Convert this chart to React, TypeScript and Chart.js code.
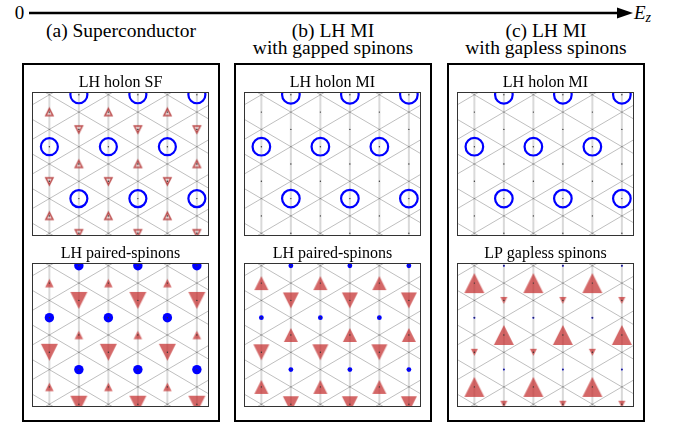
import React, { useEffect, useRef } from 'react';
import { Chart, registerables } from 'chart.js';
Chart.register(...registerables);

// ---- Lattice description (triangular lattice, columns i, half-row index k) ----
const evenColumns = [0, 2, 4];
const oddColumns = [1, 3, 5];
const allColumns = [0, 1, 2, 3, 4, 5];
// three-sublattice pattern: rows k (units of half lattice constant)
const upRowsEven = [-5, 1, 7];
const circleRowsEven = [-3, 3, 9];
const downRowsEven = [-1, 5, 11];
const upRowsOdd = [-2, 4, 10];
const circleRowsOdd = [0, 6];
const downRowsOdd = [2, 8];
// diagonal bond families: k - i = c  and  k + i = c
const diagDownOffsets = [-10, -8, -6, -4, -2, 0, 2, 4, 6, 8, 10, 12];
const diagUpOffsets = [-4, -2, 0, 2, 4, 6, 8, 10, 12, 14, 16, 18];

// ---- Texts ----
const headerTitles = ['(a) Superconductor', '(b) LH MI', '(c) LH MI'];
const headerSubtitles = ['', 'with gapped spinons', 'with gapless spinons'];
const topTitles = ['LH holon SF', 'LH holon MI', 'LH holon MI'];
const bottomTitles = ['LH paired-spinons', 'LH paired-spinons', 'LP gapless spinons'];

// ---- Marker amplitudes per panel (a, b, c) ----
const topCircleAmp = [8.5, 8.8, 8.8];
const topTriangleAmp = [7, 0, 0];
const bottomCircleAmp = [4.7, 2.4, 1.0];
const bottomUpAmp = [8.5, 14, 20];
const bottomDownAmp = [17, 16, 7];

const COL = Math.sqrt(3) / 2;
const BLUE = '#0000ff';
const RED_FILL = 'rgba(195,45,45,0.72)';
const FONT = "'Liberation Serif', 'Times New Roman', serif";

type Pt = { x: number; y: number };

function sites(cols: number[], rows: number[]): Pt[] {
  const out: Pt[] = [];
  cols.forEach((i) => rows.forEach((k) => out.push({ x: i * COL, y: k / 2 })));
  return out;
}

function triangleImage(size: number, up: boolean, fill: string, stroke: string | null, lw: number) {
  const pad = stroke ? Math.ceil(lw) + 1 : 1;
  const n = Math.ceil(size) + 2 * pad;
  const c = document.createElement('canvas');
  c.width = n;
  c.height = n;
  const ctx = c.getContext('2d')!;
  const m = n / 2;
  const h = size / 2;
  ctx.beginPath();
  if (up) {
    ctx.moveTo(m, m - h);
    ctx.lineTo(m + h, m + h);
    ctx.lineTo(m - h, m + h);
  } else {
    ctx.moveTo(m, m + h);
    ctx.lineTo(m + h, m - h);
    ctx.lineTo(m - h, m - h);
  }
  ctx.closePath();
  ctx.fillStyle = fill;
  ctx.fill();
  if (stroke) {
    ctx.lineWidth = lw;
    ctx.strokeStyle = stroke;
    ctx.stroke();
  }
  return c;
}

const framePlugin = {
  id: 'frame',
  afterDraw(chart: any) {
    const { ctx, chartArea: a } = chart;
    ctx.save();
    ctx.strokeStyle = '#333';
    ctx.lineWidth = 1;
    ctx.strokeRect(a.left + 0.5, a.top + 0.5, a.width - 1, a.height - 1);
    ctx.restore();
  },
};

function lineDatasets(): any[] {
  const ds: any[] = [];
  allColumns.forEach((i) => {
    ds.push({
      data: [{ x: i * COL, y: -1 }, { x: i * COL, y: 5 }],
      showLine: true, pointRadius: 0, borderColor: 'rgba(0,0,0,0.15)', borderWidth: 2, clip: 0, order: 3,
    });
  });
  diagDownOffsets.forEach((c) => {
    ds.push({
      data: [{ x: -2 * COL, y: (c - 2) / 2 }, { x: 8 * COL, y: (c + 8) / 2 }],
      showLine: true, pointRadius: 0, borderColor: 'rgba(0,0,0,0.32)', borderWidth: 0.8, clip: 0, order: 3,
    });
  });
  diagUpOffsets.forEach((c) => {
    ds.push({
      data: [{ x: -2 * COL, y: (c + 2) / 2 }, { x: 8 * COL, y: (c - 8) / 2 }],
      showLine: true, pointRadius: 0, borderColor: 'rgba(0,0,0,0.32)', borderWidth: 0.8, clip: 0, order: 3,
    });
  });
  return ds;
}

function markerDatasets(row: 'top' | 'bottom', p: number): any[] {
  const circles = [...sites(evenColumns, circleRowsEven), ...sites(oddColumns, circleRowsOdd)];
  const ups = [...sites(evenColumns, upRowsEven), ...sites(oddColumns, upRowsOdd)];
  const downs = [...sites(evenColumns, downRowsEven), ...sites(oddColumns, downRowsOdd)];
  const all = [...circles, ...ups, ...downs];
  const ds: any[] = [];
  if (row === 'top') {
    ds.push({
      data: circles, pointStyle: 'circle', pointRadius: topCircleAmp[p], pointBorderWidth: 2.2,
      pointBorderColor: BLUE, pointBackgroundColor: 'rgba(0,0,0,0)', clip: 0, order: 1,
    });
    const t = topTriangleAmp[p];
    if (t > 0) {
      const upImg = triangleImage(t, true, 'rgba(200,60,60,0.12)', 'rgba(175,40,40,0.8)', 1.6);
      const dnImg = triangleImage(t, false, 'rgba(200,60,60,0.12)', 'rgba(175,40,40,0.8)', 1.6);
      ds.push({ data: ups, pointStyle: upImg, pointRadius: t / 2 + 1, clip: 0, order: 1 });
      ds.push({ data: downs, pointStyle: dnImg, pointRadius: t / 2 + 1, clip: 0, order: 1 });
    }
  } else {
    ds.push({
      data: circles, pointStyle: 'circle', pointRadius: bottomCircleAmp[p], pointBorderWidth: 0,
      pointBackgroundColor: BLUE, pointBorderColor: BLUE, clip: 0, order: 1,
    });
    const u = bottomUpAmp[p];
    const d = bottomDownAmp[p];
    ds.push({ data: ups, pointStyle: triangleImage(u, true, RED_FILL, null, 0), pointRadius: u / 2 + 1, clip: 0, order: 1 });
    ds.push({ data: downs, pointStyle: triangleImage(d, false, RED_FILL, null, 0), pointRadius: d / 2 + 1, clip: 0, order: 1 });
  }
  ds.push({
    data: all, pointStyle: 'circle', pointRadius: 0.7, pointBorderWidth: 0,
    pointBackgroundColor: '#333', clip: 0, order: 0,
  });
  return ds;
}

function buildConfig(title: string, row: 'top' | 'bottom', p: number): any {
  return {
    type: 'scatter',
    data: { datasets: [...markerDatasets(row, p), ...lineDatasets()] },
    options: {
      animation: false,
      responsive: false,
      events: [],
      layout: { autoPadding: false, padding: { left: 1, right: 1, top: 0, bottom: 1 } },
      scales: {
        x: { type: 'linear', min: -0.51, max: -0.51 + 6 * COL, display: false },
        y: { type: 'linear', min: -0.08, max: 4.08, reverse: true, display: false },
      },
      plugins: {
        legend: { display: false },
        tooltip: { enabled: false },
        title: {
          display: true,
          text: title,
          color: '#000',
          font: { family: FONT, size: 16, weight: 'normal', lineHeight: 1 },
          padding: { top: 10, bottom: 1 },
        },
      },
    },
    plugins: [framePlugin],
  };
}

const PLOT_W = 177;
const PLOT_H = 144;
const TITLE_H = 27;

function LatticePanel(props: { left: number; top: number; title: string; row: 'top' | 'bottom'; p: number }) {
  const ref = useRef<HTMLCanvasElement>(null);
  useEffect(() => {
    const chart = new Chart(ref.current!, buildConfig(props.title, props.row, props.p));
    return () => chart.destroy();
  }, []);
  const w = PLOT_W + 2;
  const h = PLOT_H + TITLE_H + 1;
  return (
    <canvas
      ref={ref}
      width={w}
      height={h}
      style={{ position: 'absolute', left: props.left - 1, top: props.top - TITLE_H, width: w, height: h }}
    />
  );
}

const plotLefts = [32, 244, 457];
const TOP_Y = 92;
const BOTTOM_Y = 263;

export default function App() {
  return (
    <div style={{ position: 'fixed', left: 0, top: 0, width: 690, height: 429, background: '#fff', overflow: 'hidden' }}>
      <svg width={690} height={429} style={{ position: 'absolute', left: 0, top: 0 }}>
        <text x={19.5} y={19} fontSize={19} textAnchor="middle" fontFamily={FONT}>0</text>
        <line x1={29} y1={13} x2={620} y2={13} stroke="#000" strokeWidth={2.4} />
        <polygon points="617,7.5 633,13 617,18.5" fill="#000" />
        <text x={634} y={19} fontSize={19} fontStyle="italic" fontFamily={FONT}>
          E<tspan fontSize={14} dy={3}>z</tspan>
        </text>
        {plotLefts.map((pl, j) => (
          <g key={j}>
            <rect x={pl - 9} y={64} width={196} height={357} fill="none" stroke="#000" strokeWidth={2} />
            <text x={pl - 9 + 98} y={37} fontSize={19.5} textAnchor="middle" fontFamily={FONT}>{headerTitles[j]}</text>
            {headerSubtitles[j] && (
              <text x={pl - 9 + 98} y={54} fontSize={19.5} textAnchor="middle" fontFamily={FONT}>{headerSubtitles[j]}</text>
            )}
          </g>
        ))}
      </svg>
      {plotLefts.map((pl, j) => (
        <React.Fragment key={j}>
          <LatticePanel left={pl} top={TOP_Y} title={topTitles[j]} row="top" p={j} />
          <LatticePanel left={pl} top={BOTTOM_Y} title={bottomTitles[j]} row="bottom" p={j} />
        </React.Fragment>
      ))}
    </div>
  );
}
